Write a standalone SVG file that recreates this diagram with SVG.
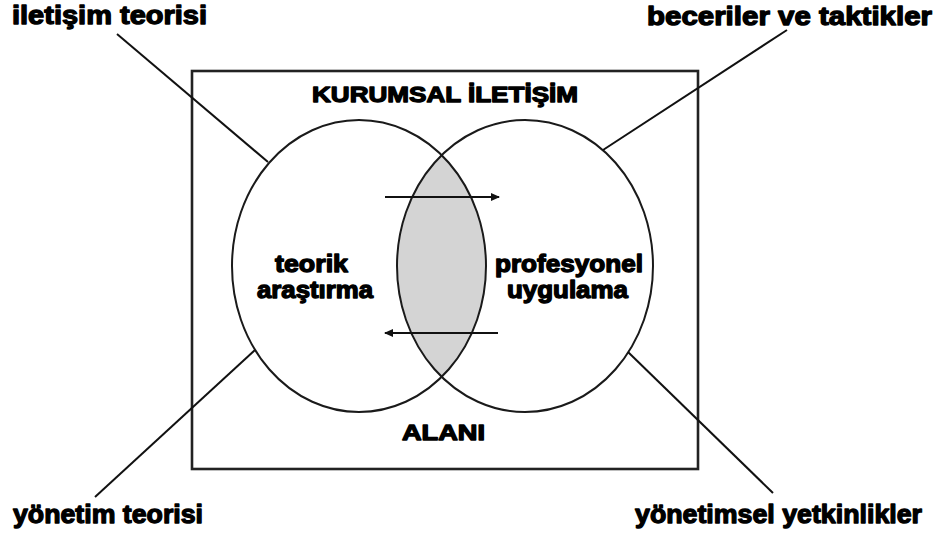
<svg xmlns="http://www.w3.org/2000/svg" width="942" height="536" viewBox="0 0 942 536">
  <style>
    .heavy { font-family: "Liberation Sans", Arial, sans-serif; font-weight: bold; fill: #000; stroke: #000; stroke-width: 1.3; stroke-linejoin: round; }
    .corner { font-size: 26px; }
    .inner { font-size: 23px; }
    .title { font-size: 22px; }
    .outline { fill: none; stroke: #1a1a1a; stroke-width: 2; }
    .frame { fill: none; stroke: #222; stroke-width: 2.6; }
    .leader { stroke: #111; stroke-width: 2; fill: none; }
    .flow { stroke: #111; stroke-width: 2; fill: none; marker-end: url(#head); }
  </style>
  <defs>
    <marker id="head" markerWidth="9" markerHeight="8" refX="8" refY="4" orient="auto" markerUnits="userSpaceOnUse">
      <path d="M0,0 L9,4 L0,8 Z" fill="#111"/>
    </marker>
  </defs>

  <rect width="942" height="536" fill="#fff"/>

  <!-- outer field -->
  <g id="field">
    <rect class="frame" x="192" y="71" width="506" height="398"/>
    <text class="heavy title" x="312" y="102" textLength="266" lengthAdjust="spacingAndGlyphs">KURUMSAL İLETİŞİM</text>
    <text class="heavy title" x="402" y="440" textLength="83" lengthAdjust="spacingAndGlyphs">ALANI</text>
  </g>

  <!-- shared area of the two domains -->
  <g id="overlap">
    <path d="M442,155.5 A128,146 0 0,0 442,376.5 A127,146 0 0,0 442,155.5 Z" fill="#d4d4d4"/>
  </g>

  <g id="theory">
    <ellipse class="outline" cx="359" cy="266" rx="127" ry="146"/>
    <text class="heavy inner" x="275" y="272" textLength="73" lengthAdjust="spacingAndGlyphs">teorik</text>
    <text class="heavy inner" x="257" y="298" textLength="116" lengthAdjust="spacingAndGlyphs">araştırma</text>
  </g>

  <g id="practice">
    <ellipse class="outline" cx="525" cy="266" rx="128" ry="146"/>
    <text class="heavy inner" x="495" y="272" textLength="148" lengthAdjust="spacingAndGlyphs">profesyonel</text>
    <text class="heavy inner" x="507" y="298" textLength="121" lengthAdjust="spacingAndGlyphs">uygulama</text>
  </g>

  <g id="label-communication-theory">
    <text class="heavy corner" x="12" y="24" textLength="195" lengthAdjust="spacingAndGlyphs">iletişim teorisi</text>
  </g>
  <g id="label-skills">
    <text class="heavy corner" x="647" y="25" textLength="285" lengthAdjust="spacingAndGlyphs">beceriler ve taktikler</text>
  </g>
  <g id="label-management-theory">
    <text class="heavy corner" x="13" y="523" textLength="190" lengthAdjust="spacingAndGlyphs">yönetim teorisi</text>
  </g>
  <g id="label-competencies">
    <text class="heavy corner" x="635" y="523" textLength="287" lengthAdjust="spacingAndGlyphs">yönetimsel yetkinlikler</text>
  </g>

  <!-- leaders and flow arrows -->
  <g id="connectors">
    <line class="leader" x1="117" y1="34" x2="268" y2="162"/>
    <line class="leader" x1="787" y1="30" x2="603" y2="150"/>
    <line class="leader" x1="95" y1="497" x2="255" y2="350"/>
    <line class="leader" x1="773" y1="493" x2="628" y2="352"/>
    <line class="flow" x1="385" y1="197" x2="499" y2="197"/>
    <line class="flow" x1="498" y1="333" x2="385" y2="333"/>
  </g>
</svg>
